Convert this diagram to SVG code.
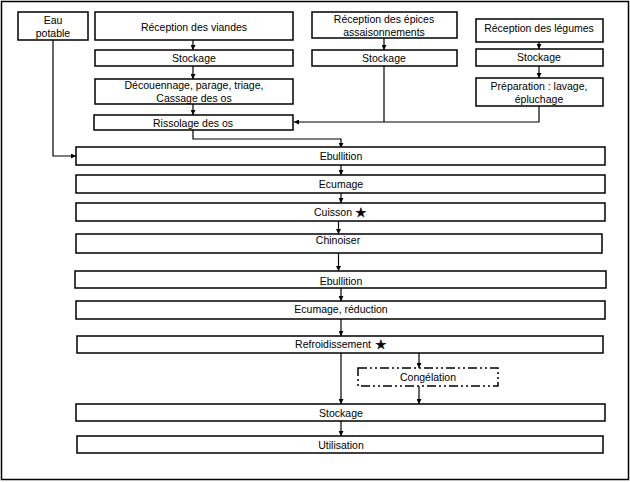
<svg xmlns="http://www.w3.org/2000/svg" width="630" height="482" viewBox="0 0 630 482">
<style>
.b{fill:#fff;stroke:#000;stroke-width:1.5}
.t{font-family:"Liberation Sans",Arial,sans-serif;font-size:10.5px;fill:#000;text-anchor:middle}
.s{font-family:"DejaVu Sans",sans-serif;font-size:13px;fill:#000;stroke:#000;stroke-width:0.4}
.c{fill:none;stroke:#000;stroke-width:1.2}
</style>
<defs>
<marker id="a" viewBox="0 0 8 8" refX="8" refY="4" markerWidth="5" markerHeight="5" orient="auto" markerUnits="userSpaceOnUse">
<path d="M0,0L8,4L0,8z" fill="#000"/>
</marker>
</defs>
<rect x="1.5" y="1.5" width="627" height="478" fill="#fff" stroke="#000" stroke-width="1.5"/>
<g id="connectors">
<path class="c" d="M193,40V50" marker-end="url(#a)"/>
<path class="c" d="M193,66V79" marker-end="url(#a)"/>
<path class="c" d="M193,104V115" marker-end="url(#a)"/>
<path class="c" d="M384,38V50" marker-end="url(#a)"/>
<path class="c" d="M539,42V49" marker-end="url(#a)"/>
<path class="c" d="M539,66V78" marker-end="url(#a)"/>
<path class="c" d="M384,66V122"/>
<path class="c" d="M539,106V122H294" marker-end="url(#a)"/>
<path class="c" d="M53,40V156H76" marker-end="url(#a)"/>
<path class="c" d="M193,130V139H341V148" marker-end="url(#a)"/>
<path class="c" d="M341,165V175" marker-end="url(#a)"/>
<path class="c" d="M341,193V203" marker-end="url(#a)"/>
<path class="c" d="M338.5,221V234" marker-end="url(#a)"/>
<path class="c" d="M338.5,253V271" marker-end="url(#a)"/>
<path class="c" d="M341,288V301" marker-end="url(#a)"/>
<path class="c" d="M341,319V336" marker-end="url(#a)"/>
<path class="c" d="M341,353V404" marker-end="url(#a)"/>
<path class="c" d="M419,353V368" marker-end="url(#a)"/>
<path class="c" d="M419,386V404" marker-end="url(#a)"/>
<path class="c" d="M341,421V436" marker-end="url(#a)"/>
</g>
<g id="eau"><rect class="b" x="18" y="12" width="70" height="28"/><text class="t" x="53" y="24">Eau</text><text class="t" x="53" y="37">potable</text></g>
<g id="rec-viandes"><rect class="b" x="95" y="12" width="198" height="28"/><text class="t" x="194" y="31">Réception des viandes</text></g>
<g id="stock-viandes"><rect class="b" x="95" y="50" width="198" height="16"/><text class="t" x="194" y="62">Stockage</text></g>
<g id="decoupe"><rect class="b" x="95" y="79" width="198" height="25"/><text class="t" x="194" y="89">Découennage, parage, triage,</text><text class="t" x="194" y="102">Cassage des os</text></g>
<g id="rissolage"><rect class="b" x="94" y="115" width="199" height="15"/><text class="t" x="193" y="127">Rissolage des os</text></g>
<g id="rec-epices"><rect class="b" x="312" y="12" width="145" height="26"/><text class="t" x="384" y="23">Réception des épices</text><text class="t" x="384" y="36">assaisonnements</text></g>
<g id="stock-epices"><rect class="b" x="312" y="50" width="145" height="16"/><text class="t" x="384" y="62">Stockage</text></g>
<g id="rec-legumes"><rect class="b" x="476" y="19" width="127" height="23"/><text class="t" x="539" y="32">Réception des légumes</text></g>
<g id="stock-legumes"><rect class="b" x="476" y="49" width="127" height="17"/><text class="t" x="539" y="61">Stockage</text></g>
<g id="preparation"><rect class="b" x="476" y="78" width="127" height="28"/><text class="t" x="539" y="90">Préparation : lavage,</text><text class="t" x="539" y="103">épluchage</text></g>
<g id="ebullition1"><rect class="b" x="76" y="147" width="529" height="18"/><text class="t" x="341" y="160">Ebullition</text></g>
<g id="ecumage"><rect class="b" x="76" y="175" width="529" height="18"/><text class="t" x="341" y="188">Ecumage</text></g>
<g id="cuisson"><rect class="b" x="76" y="203" width="529" height="18"/><text class="t" x="333" y="216">Cuisson</text><text class="s" x="355" y="216.5">★</text></g>
<g id="chinoiser"><rect class="b" x="76" y="234" width="526" height="19"/><text class="t" x="338" y="244">Chinoiser</text></g>
<g id="ebullition2"><rect class="b" x="75" y="271" width="531" height="17"/><text class="t" x="341" y="285">Ebullition</text></g>
<g id="ecumage-reduction"><rect class="b" x="76" y="301" width="529" height="18"/><text class="t" x="341" y="313">Ecumage, réduction</text></g>
<g id="refroidissement"><rect class="b" x="77" y="336" width="526" height="17"/><text class="t" x="333" y="348">Refroidissement</text><text class="s" x="375" y="348.5">★</text></g>
<g id="congelation"><rect x="358" y="368" width="140" height="18" fill="#fff" stroke="#000" stroke-width="1.5" stroke-dasharray="9,3,2,3,2,3"/><text class="t" x="428" y="381">Congélation</text></g>
<g id="stockage"><rect class="b" x="76" y="404" width="529" height="17"/><text class="t" x="341" y="417">Stockage</text></g>
<g id="utilisation"><rect class="b" x="77" y="436" width="526" height="17"/><text class="t" x="341" y="449">Utilisation</text></g>
</svg>
